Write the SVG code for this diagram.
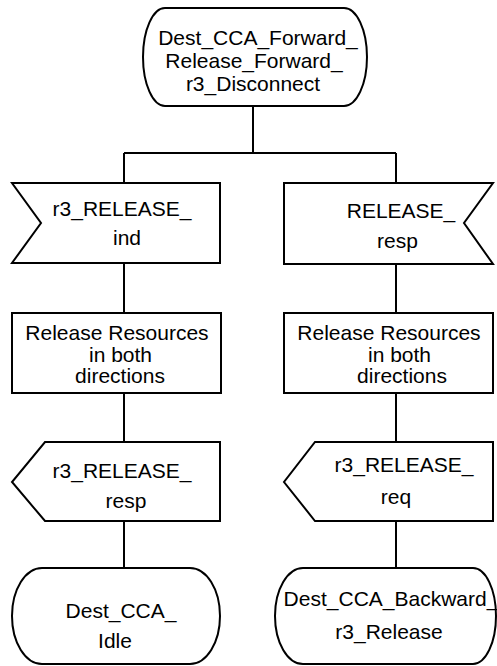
<svg xmlns="http://www.w3.org/2000/svg" width="497" height="666" viewBox="0 0 497 666">
<style>
.s{fill:#fff;stroke:#000;stroke-width:2;stroke-linejoin:miter}
.c{fill:none;stroke:#000;stroke-width:2}
text{font-family:"Liberation Sans",Arial,sans-serif;font-size:21px;fill:#000;text-anchor:middle}
</style>
<rect width="497" height="666" fill="#fff"/>
<g id="connectors">
<path class="c" d="M253,106 V153 M124,153 H396 M124,153 V183 M396,153 V183"/>
<path class="c" d="M124,263 V313 M124,393 V442 M124,521 V568"/>
<path class="c" d="M396,264 V313 M396,393 V442 M396,521 V568"/>
</g>
<g id="start_state">
<path class="s" d="M165,8 H344 A23 49 0 0 1 344,106 H165 A22 49 0 0 1 165,8 Z"/>
<text x="258" y="45">Dest_CCA_Forward_</text>
<text x="254" y="68">Release_Forward_</text>
<text x="253" y="90.5">r3_Disconnect</text>
</g>
<g id="in_r3_release_ind">
<polygon class="s" points="12,183 220,183 220,263 12,263 41,223"/>
<text x="122" y="216">r3_RELEASE_</text>
<text x="127" y="245">ind</text>
</g>
<g id="in_release_resp">
<polygon class="s" points="284,183 493,183 464,223 493,264 284,264"/>
<text x="401" y="218">RELEASE_</text>
<text x="397.5" y="248">resp</text>
</g>
<g id="task_left">
<rect class="s" x="12" y="313" width="209" height="80"/>
<text x="117" y="340">Release Resources</text>
<text x="120.5" y="362">in both</text>
<text x="120" y="383">directions</text>
</g>
<g id="task_right">
<rect class="s" x="284" y="313" width="209" height="80"/>
<text x="389" y="340">Release Resources</text>
<text x="399.5" y="362">in both</text>
<text x="402" y="383">directions</text>
</g>
<g id="out_r3_release_resp">
<polygon class="s" points="45,442 220,442 220,521 45,521 12,482"/>
<text x="122" y="478">r3_RELEASE_</text>
<text x="126" y="508">resp</text>
</g>
<g id="out_r3_release_req">
<polygon class="s" points="315,442 493,442 493,521 315,521 284,482"/>
<text x="404" y="472">r3_RELEASE_</text>
<text x="396" y="504">req</text>
</g>
<g id="state_idle">
<path class="s" d="M42,568 H190 A30 48 0 0 1 190,664 H42 A30 48 0 0 1 42,568 Z"/>
<text x="121" y="618">Dest_CCA_</text>
<text x="115" y="648">Idle</text>
</g>
<g id="state_backward_release">
<path class="s" d="M303,568 H473 A23 48 0 0 1 473,664 H303 A28 48 0 0 1 303,568 Z"/>
<text x="391" y="606">Dest_CCA_Backward_</text>
<text x="389" y="639">r3_Release</text>
</g>
</svg>
